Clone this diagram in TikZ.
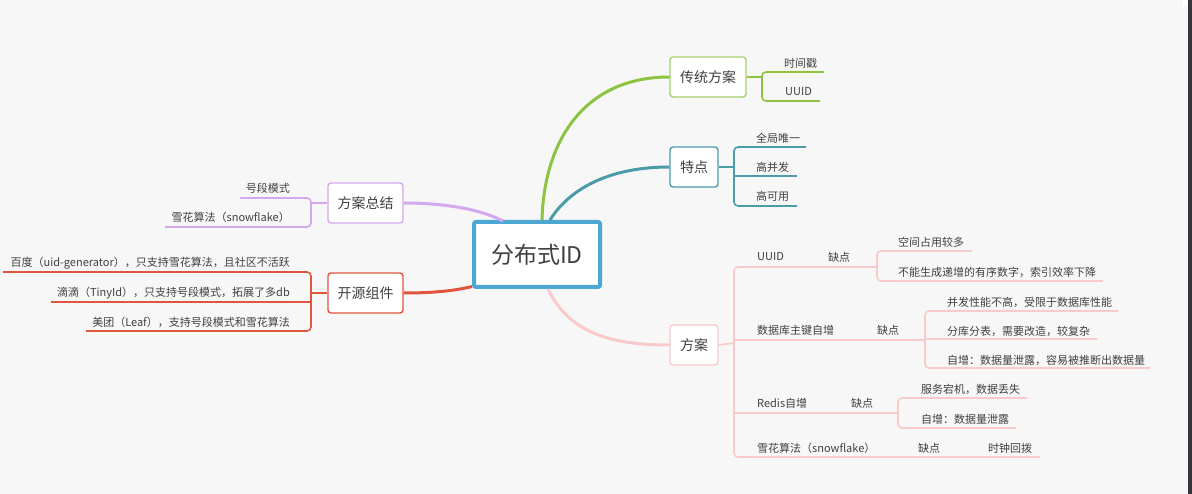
\documentclass[tikz,border=0pt]{standalone}
\usepackage{fontspec}
\setmainfont{Noto Sans CJK SC}
\definecolor{bgc}{HTML}{F7F7F7}
\definecolor{txt}{HTML}{404040}
\definecolor{cblue}{HTML}{4CA8D2}
\definecolor{cgreen}{HTML}{8CC441}
\definecolor{cgreenb}{HTML}{A6D16E}
\definecolor{cteal}{HTML}{4A9CA8}
\definecolor{cpurple}{HTML}{D4A8EE}
\definecolor{cred}{HTML}{E0553F}
\definecolor{cpink}{HTML}{F9CACA}
\definecolor{cbar}{HTML}{36373B}
\tikzset{
  topic/.style={draw, fill=white, rounded corners=3pt, line width=1.4pt, text=txt,
    font=\fontsize{14}{16}\selectfont, inner sep=0pt, minimum height=40pt},
  leafr/.style={anchor=west, text=txt, font=\fontsize{11}{12}\selectfont, inner sep=0pt},
  leafl/.style={anchor=east, text=txt, font=\fontsize{11}{12}\selectfont, inner sep=0pt},
  mainline/.style={line width=3pt},
  brline/.style={line width=1.6pt, rounded corners=4pt},
}
\begin{document}
\begin{tikzpicture}[x=1pt,y=-1pt]
\fill[bgc] (0,0) rectangle (1192,494);
\useasboundingbox (0,0) rectangle (1192,494);
\fill[cbar] (1188,0) rectangle (1192,494);
\fill[white] (1183,0) rectangle (1188,6);

% central
\node[draw=cblue, fill=white, line width=4pt, rounded corners=2pt, minimum width=126pt, minimum height=65pt,
  text=txt, font=\fontsize{23}{26}\selectfont, inner sep=0pt] (c) at (537,254.5) {分布式ID};

% topics
\node[topic, draw=cgreenb, minimum width=76pt] (t1) at (708,77) {传统方案};
\node[topic, draw=cteal, minimum width=48pt] (t2) at (694,167) {特点};
\node[topic, draw=cpink, minimum width=48pt] (t3) at (694,345) {方案};
\node[topic, draw=cpurple, minimum width=75pt] (t4) at (365.5,203) {方案总结};
\node[topic, draw=cred, minimum width=75pt] (t5) at (365.5,293) {开源组件};

% main curves
\draw[mainline, cgreen] ([xshift=5pt]c.north) .. controls (544,140) and (585,77) .. (t1.west);
\draw[mainline, cteal] ([xshift=13pt]c.north) .. controls (572,185) and (615,167) .. (t2.west);
\draw[mainline, cpink] ([xshift=11pt]c.south) .. controls (570,335) and (615,345) .. (t3.west);
\draw[mainline, cpurple] ([xshift=-34pt,yshift=-1pt]c.north) .. controls (478,208) and (440,203) .. (t4.east);
\draw[mainline, cred] ([yshift=-32pt]c.west) .. controls (450,292) and (425,293) .. (t5.east);

% 传统方案 leaves
\node[leafr] (a1) at (784,63) {时间戳};
\node[leafr] (a2) at (785,92) {UUID};
\draw[brline, cgreen] (t1.east) -- (762,77);
\draw[brline, cgreen] (824,72) -- (762,72) -- (762,101) -- (820,101);

% 特点 leaves
\node[leafr] (b1) at (756,138) {全局唯一};
\node[leafr] (b2) at (756,167) {高并发};
\node[leafr] (b3) at (756,196) {高可用};
\draw[brline, cteal] (t2.east) -- (734,167);
\draw[brline, cteal] (806,147) -- (734,147) -- (734,206) -- (797,206);
\draw[brline, cteal] (734,176) -- (797,176);

% 方案总结 leaves
\node[leafl] (p1) at (290,188) {号段模式};
\node[leafl] (p2) at (290,217) {雪花算法（snowflake）};
\draw[brline, cpurple] (t4.west) -- (311,203);
\draw[brline, cpurple] (240,198) -- (311,198) -- (311,227) -- (165,227);

% 开源组件 leaves
\node[leafl] (r1) at (290,263) {百度（uid-generator），只支持雪花算法，且社区不活跃};
\node[leafl] (r2) at (290,293) {滴滴（TinyId），只支持号段模式，拓展了多db};
\node[leafl] (r3) at (290,322) {美团（Leaf），支持号段模式和雪花算法};
\draw[brline, cred] (t5.west) -- (311,293);
\draw[brline, cred] (3,272) -- (311,272) -- (311,331) -- (86,331);
\draw[brline, cred] (51,302) -- (311,302);

% 方案 subtree
\draw[brline, cpink] (t3.east) -- (734,343);
\draw[brline, cpink] (877,267) -- (734,267) -- (734,457) -- (1040,457);
\draw[brline, cpink] (734,340) -- (925,340);
\draw[brline, cpink] (734,413) -- (898,413);

\node[leafr] (u1) at (757,257) {UUID};
\node[leafr] (u2) at (828,257) {缺点};
\node[leafr] (u3) at (898,242) {空间占用较多};
\node[leafr] (u4) at (898,272) {不能生成递增的有序数字，索引效率下降};
\draw[brline, cpink] (972,251) -- (877,251) -- (877,281) -- (1103,281);

\node[leafr] (d1) at (757,330) {数据库主键自增};
\node[leafr] (d2) at (877,330) {缺点};
\node[leafr] (d3) at (947,302) {并发性能不高，受限于数据库性能};
\node[leafr] (d4) at (947,331) {分库分表，需要改造，较复杂};
\node[leafr] (d5) at (947,360) {自增：数据量泄露，容易被推断出数据量};
\draw[brline, cpink] (1118,311) -- (925,311) -- (925,368) -- (1150,368);
\draw[brline, cpink] (925,339) -- (1097,339);

\node[leafr] (e1) at (757,403) {Redis自增};
\node[leafr] (e2) at (851,403) {缺点};
\node[leafr] (e3) at (921,389) {服务宕机，数据丢失};
\node[leafr] (e4) at (921,419) {自增：数据量泄露};
\draw[brline, cpink] (1027,398) -- (898,398) -- (898,428) -- (1016,428);

\node[leafr] (f1) at (757,448) {雪花算法（snowflake）};
\node[leafr] (f2) at (918,448) {缺点};
\node[leafr] (f3) at (988,448) {时钟回拨};
\end{tikzpicture}
\end{document}
